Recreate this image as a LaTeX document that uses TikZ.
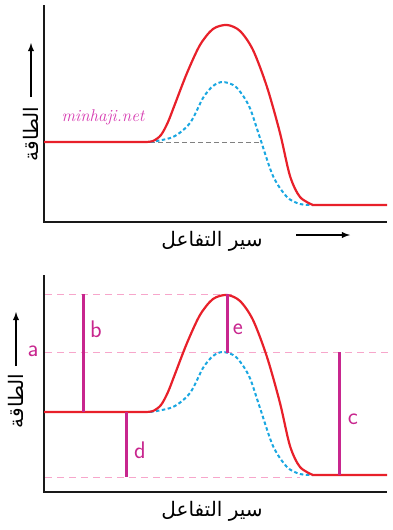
\documentclass[tikz,border=0pt]{standalone}
\usepackage{fontspec}
\newfontfamily\arabicfont[Script=Arabic]{DejaVu Sans}
\TeXXeTstate=1
\usepackage{xcolor}
\usetikzlibrary{arrows}
\definecolor{curvered}{HTML}{E8202A}
\definecolor{catblue}{HTML}{1AA7E1}
\definecolor{barmag}{HTML}{C8268E}
\definecolor{guidepink}{HTML}{F7A6CB}
\definecolor{markpink}{HTML}{D63AB0}

\begin{document}
\begin{tikzpicture}[x=1pt,y=-1pt,
  axis/.style={black!90,line width=2pt},
  react/.style={curvered,line width=2.2pt},
  cat/.style={catblue,line width=2pt,dash pattern=on 3.5pt off 2.5pt},
  guide/.style={guidepink,line width=0.8pt,dash pattern=on 7pt off 5pt},
  bar/.style={barmag,line width=3pt},
  lbl/.style={barmag,font=\fontsize{24}{24}\sffamily},
  ar/.style={font=\fontsize{20}{20}\arabicfont}]
\useasboundingbox (0,0) rectangle (392,530);
% guides of the lower chart
\draw[guide] (45,294) -- (233,294);
\draw[guide] (45,352) -- (388,352);
\draw[guide] (45,477) -- (300,477);
\draw[gray,line width=0.8pt,dash pattern=on 5pt off 3pt] (150,142) -- (262,142);
% both charts
\foreach \s in {0,270} {
  \begin{scope}[shift={(0,\s)}]
  \draw[axis] (44,5) -- (44,222) -- (387,222);
  \draw[cat] (150,142) -- plot[smooth] coordinates {(150,142) (173,137) (190,123) (203,98) (213,86) (223,82) (236,87) (249,106) (260,138) (273,176) (287,197) (300,204) (313,205)};
  \draw[react] (44,142) -- plot[smooth] coordinates {(145,142) (153,141) (161,135) (168,122) (175,104) (187,73) (200,45) (213,29) (227,25) (240,31) (253,50) (267,87) (280,133) (290,176) (300,197) (313,205)} -- (387,205);
  \draw[-latex,line width=1.8pt] (296,235+\s) -- (350,235+\s);
  \end{scope}
}
\draw[-latex,line width=1.8pt] (31,97) -- (31,43);
\draw[-latex,line width=1.8pt] (16,366) -- (16,312);
\node[ar,rotate=90] (ytop) at (31,134) {\beginR الطاقة\endR};
\node[ar,rotate=90] (ybot) at (16,401) {\beginR الطاقة\endR};
\node[ar] (xtop) at (212,241) {\beginR سير التفاعل\endR};
\node[ar] (xbot) at (212,511) {\beginR سير التفاعل\endR};
\node[markpink,font=\fontsize{17}{17}\itshape] (site) at (103,117) {minhaji.net};
% energy bars
\draw[bar] (83,294) -- (83,412);
\draw[bar] (126,412) -- (126,477);
\draw[bar] (227,294) -- (227,353);
\draw[bar] (339,352) -- (339,475);
\node[lbl] (la) at (33,351) {a};
\node[lbl] (lb) at (96,329) {b};
\node[lbl] (lc) at (353,419) {c};
\node[lbl] (ld) at (140,450) {d};
\node[lbl] (le) at (238,329) {e};
\end{tikzpicture}
\end{document}
